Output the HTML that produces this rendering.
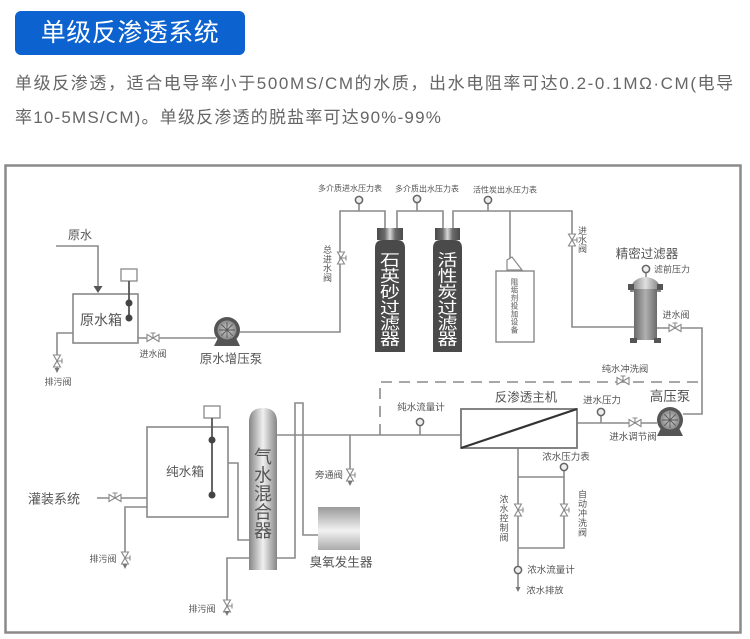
<!DOCTYPE html>
<html><head><meta charset="utf-8">
<style>
html,body{margin:0;padding:0;background:#fff;}
body{width:750px;height:639px;position:relative;overflow:hidden;font-family:"Liberation Sans","Noto Sans CJK SC",sans-serif;}
.title{position:absolute;left:15px;top:11px;width:230px;height:44px;background:#0c62cf;border-radius:6px;color:#fff;font-size:25px;line-height:44px;text-align:center;letter-spacing:0.5px;}
.p{position:absolute;left:15px;white-space:nowrap;font-size:17px;color:#666;line-height:20px;}
svg text{font-family:"Liberation Sans","Noto Sans CJK SC",sans-serif;}
</style></head><body>
<div class="title">单级反渗透系统</div>
<div class="p" style="top:74px;letter-spacing:1.6px;">单级反渗透，适合电导率小于500MS/CM的水质，出水电阻率可达0.2-0.1MΩ·CM(电导</div>
<div class="p" style="top:108px;letter-spacing:1.2px;">率10-5MS/CM)。单级反渗透的脱盐率可达90%-99%</div>

<svg width="750" height="639" viewBox="0 0 750 639" style="position:absolute;left:0;top:0">
<defs>
<linearGradient id="capG" x1="0" x2="1" y1="0" y2="0">
<stop offset="0" stop-color="#4a4a4a"/><stop offset="0.3" stop-color="#6a6a6a"/><stop offset="0.5" stop-color="#d8d8d8"/><stop offset="0.7" stop-color="#6a6a6a"/><stop offset="1" stop-color="#4a4a4a"/>
</linearGradient>
<linearGradient id="mixG" x1="0" x2="1" y1="0" y2="0">
<stop offset="0" stop-color="#858585"/><stop offset="0.5" stop-color="#f0f0f0"/><stop offset="1" stop-color="#858585"/>
</linearGradient>
<linearGradient id="ozG" x1="0" x2="0" y1="0" y2="1">
<stop offset="0" stop-color="#9a9a9a"/><stop offset="0.55" stop-color="#f2f2f2"/><stop offset="1" stop-color="#aaaaaa"/>
</linearGradient>
<linearGradient id="filtG" x1="0" x2="1" y1="0" y2="0">
<stop offset="0" stop-color="#6a6a6a"/><stop offset="0.5" stop-color="#b0b0b0"/><stop offset="1" stop-color="#6a6a6a"/>
</linearGradient>
<linearGradient id="domeG" x1="0" x2="1" y1="0" y2="0">
<stop offset="0" stop-color="#777"/><stop offset="0.5" stop-color="#e0e0e0"/><stop offset="1" stop-color="#777"/>
</linearGradient>
<radialGradient id="pumpG">
<stop offset="0" stop-color="#cfcfcf"/><stop offset="1" stop-color="#8a8a8a"/>
</radialGradient>
<g id="vh">
<path d="M-6 -3.5 L0 0 L-6 3.5 Z M6 -3.5 L0 0 L6 3.5 Z" fill="#fff" stroke="#888" stroke-width="1.1"/>
<path d="M0 0 V-5 M-2.5 -5 H2.5" stroke="#888" stroke-width="1.1" fill="none"/>
</g>
<g id="arr"><polygon points="-2.5,0 2.5,0 0,5" fill="#777"/></g>
<g id="pump">
<polygon points="-13,16 13,16 9,8 -9,8" fill="#555"/>
<circle r="13" fill="#555"/>
<circle r="9.5" fill="url(#pumpG)"/>
<path d="M-8 0 H8 M0 -8 V8 M-5.7 -5.7 L5.7 5.7 M-5.7 5.7 L5.7 -5.7" stroke="#555" stroke-width="0.9"/>
</g>
<g id="gauge"><circle r="3.6" fill="#eee" stroke="#666" stroke-width="1.5"/></g>
</defs>

<rect x="5.5" y="165.5" width="735" height="467" fill="none" stroke="#8a8a8a" stroke-width="2.5"/>

<g stroke="#8a8a8a" stroke-width="1.6" fill="none">
<path d="M56 246 H98 V287"/>
<path d="M73 333 H57 V370"/>
<path d="M138 338 H216"/>
<path d="M240 332 H340 V211 H385 V228"/>
<path d="M397 228 V211 H443 V228"/>
<path d="M453 228 V211 H572 V327 H634"/>
<path d="M510 211 V258"/>
<path d="M359 203 V211 M417 202 V211 M488 203 V211"/>
<path d="M646 272 V278"/>
<path d="M657 328 H702 V414 H683"/>
<path d="M577 423 H657"/>
<path d="M601 415 V423"/>
<path d="M461 435 H277"/>
<path d="M420 425 V435"/>
<path d="M350 435 V482"/>
<path d="M518 448 V588"/>
<path d="M518 477 H564 V548 H518"/>
<path d="M564 470 V477"/>
<path d="M97 498 H147"/>
<path d="M147 507 H125 V565"/>
<path d="M228 463 H238 V540 H249"/>
<path d="M249 558 H227 V612"/>
<path d="M277 558 H295 V403 H303 V535 H318"/>
</g>
<path d="M380 435 V382 H702" fill="none" stroke="#8a8a8a" stroke-width="1.6" stroke-dasharray="11 7"/>

<polygon points="93.5,286 102.5,286 98,293" fill="#555"/>
<rect x="73" y="294" width="65" height="49" fill="#fff" stroke="#888" stroke-width="1.6"/>
<rect x="121" y="269" width="16" height="12" fill="#fff" stroke="#888" stroke-width="1.3"/>
<line x1="129" y1="281" x2="129" y2="318" stroke="#555" stroke-width="1.8"/>
<circle cx="129" cy="303" r="3.5" fill="#444"/>
<circle cx="129" cy="318" r="3.5" fill="#444"/>

<rect x="147" y="427" width="81" height="90" fill="#fff" stroke="#888" stroke-width="1.6"/>
<rect x="204" y="406" width="16" height="12" fill="#fff" stroke="#888" stroke-width="1.3"/>
<line x1="212" y1="418" x2="212" y2="495" stroke="#555" stroke-width="1.8"/>
<circle cx="212" cy="440" r="3.5" fill="#444"/>
<circle cx="212" cy="495" r="3.5" fill="#444"/>

<use href="#pump" x="227" y="330"/>
<use href="#pump" x="670" y="420"/>

<path d="M375 352 V248 Q375 240 383 240 H397 Q405 240 405 248 V352 Z" fill="#4a4a4a"/>
<rect x="377" y="228" width="26" height="12" fill="url(#capG)"/>
<path d="M433 352 V248 Q433 240 441 240 H454 Q462 240 462 248 V352 Z" fill="#4a4a4a"/>
<rect x="435" y="228" width="25" height="12" fill="url(#capG)"/>
<g fill="#fff" font-size="16" text-anchor="middle" dominant-baseline="central">
<g transform="translate(390,0) scale(1.25,1)">
<text x="0" y="260">石</text><text x="0" y="276">英</text><text x="0" y="292">砂</text><text x="0" y="308">过</text><text x="0" y="323.5">滤</text><text x="0" y="339">器</text>
</g>
<g transform="translate(447.5,0) scale(1.25,1)">
<text x="0" y="260">活</text><text x="0" y="276">性</text><text x="0" y="292">炭</text><text x="0" y="308">过</text><text x="0" y="323.5">滤</text><text x="0" y="339">器</text>
</g>
</g>

<rect x="496" y="271" width="38" height="71" fill="#fff" stroke="#888" stroke-width="1.4"/>
<polygon points="507,270 507,260 512,257 522,270" fill="#fff" stroke="#888" stroke-width="1.2"/>
<g fill="#888" font-size="7.5" text-anchor="middle" dominant-baseline="central" font-weight="bold">
<text x="514.5" y="282">阻</text><text x="514.5" y="290">垢</text><text x="514.5" y="298">剂</text><text x="514.5" y="306">投</text><text x="514.5" y="314">加</text><text x="514.5" y="322">设</text><text x="514.5" y="330">备</text>
</g>

<path d="M630 292 Q631 278 645.5 277 Q660 278 661 292 Z" fill="url(#domeG)"/>
<rect x="634" y="289" width="23" height="51" fill="url(#filtG)"/>
<rect x="628" y="284" width="6" height="6" fill="#555"/>
<rect x="657" y="284" width="6" height="6" fill="#555"/>
<rect x="630" y="338" width="7" height="5" fill="#555"/>
<rect x="654" y="338" width="7" height="5" fill="#555"/>

<rect x="461" y="409" width="116" height="39" fill="#fff" stroke="#777" stroke-width="1.8"/>
<line x1="461" y1="448" x2="577" y2="409" stroke="#333" stroke-width="2.2"/>

<path d="M249 570 V422 Q249 408 263 408 Q277 408 277 422 V570 Z" fill="url(#mixG)"/>
<g fill="#555" font-size="18" text-anchor="middle" dominant-baseline="central">
<text x="263" y="457">气</text><text x="263" y="475.5">水</text><text x="263" y="494">混</text><text x="263" y="512.5">合</text><text x="263" y="531">器</text>
</g>

<rect x="318" y="507" width="42" height="43" fill="url(#ozG)"/>

<use href="#gauge" x="359" y="200"/>
<use href="#gauge" x="417" y="199"/>
<use href="#gauge" x="488" y="200"/>
<use href="#gauge" x="646" y="269"/>
<use href="#gauge" x="601" y="412"/>
<use href="#gauge" x="420" y="422"/>
<use href="#gauge" x="564" y="467"/>
<use href="#gauge" x="518" y="570"/>

<use href="#vh" x="153" y="338"/>
<use href="#vh" transform="translate(57,361) rotate(90)"/>
<use href="#arr" x="57" y="368"/>
<use href="#vh" transform="translate(341,258) rotate(90)"/>
<use href="#vh" transform="translate(572,240) rotate(90)"/>
<use href="#vh" x="675" y="328"/>
<use href="#vh" x="623" y="381"/>
<use href="#vh" x="635" y="423"/>
<use href="#vh" transform="translate(518,510) rotate(90)"/>
<use href="#vh" transform="translate(564,510) rotate(90)"/>
<use href="#arr" x="518" y="587"/>
<use href="#vh" transform="translate(350,475) rotate(90)"/>
<use href="#arr" x="350" y="481"/>
<use href="#vh" x="115" y="498"/>
<use href="#vh" transform="translate(125,558) rotate(90)"/>
<use href="#arr" x="125" y="564"/>
<use href="#vh" transform="translate(227,606) rotate(90)"/>
<use href="#arr" x="227" y="611"/>

<g fill="#555" text-anchor="middle" dominant-baseline="central">
<text x="80" y="235" font-size="12">原水</text>
<text x="101" y="320" font-size="14">原水箱</text>
<text x="153" y="354" font-size="9">进水阀</text>
<text x="58" y="382" font-size="9">排污阀</text>
<text x="231" y="359" font-size="12.5">原水增压泵</text>
<text x="350" y="188.5" font-size="8">多介质进水压力表</text>
<text x="427" y="189" font-size="8">多介质出水压力表</text>
<text x="505" y="190" font-size="8">活性炭出水压力表</text>
<text x="647" y="254" font-size="12.5">精密过滤器</text>
<text x="672" y="269.5" font-size="9">滤前压力</text>
<text x="676" y="315" font-size="9">进水阀</text>
<text x="625" y="369" font-size="9.3">纯水冲洗阀</text>
<text x="670" y="396.5" font-size="13.5">高压泵</text>
<text x="526" y="397.5" font-size="12.5">反渗透主机</text>
<text x="602" y="401" font-size="9.5">进水压力</text>
<text x="633" y="437.5" font-size="9.5">进水调节阀</text>
<text x="421" y="408" font-size="9.5">纯水流量计</text>
<text x="566" y="457.5" font-size="9.5">浓水压力表</text>
<text x="551" y="570.5" font-size="9.5">浓水流量计</text>
<text x="545" y="590.5" font-size="9.3">浓水排放</text>
<text x="185" y="472" font-size="12.7">纯水箱</text>
<text x="54" y="499" font-size="13">灌装系统</text>
<text x="103" y="559" font-size="9">排污阀</text>
<text x="329" y="475" font-size="9.3">旁通阀</text>
<text x="341" y="562.5" font-size="12.6">臭氧发生器</text>
<text x="202" y="609" font-size="9">排污阀</text>
</g>
<g fill="#555" text-anchor="middle" dominant-baseline="central" font-size="9">
<text x="327.5" y="250">总</text><text x="327.5" y="259.3">进</text><text x="327.5" y="268.6">水</text><text x="327.5" y="277.9">阀</text>
<text x="582.5" y="231">进</text><text x="582.5" y="240">水</text><text x="582.5" y="249">阀</text>
<text x="504" y="499.7">浓</text><text x="504" y="509.1">水</text><text x="504" y="518.5">控</text><text x="504" y="527.9">制</text><text x="504" y="537.3">阀</text>
<text x="582.5" y="494.7">自</text><text x="582.5" y="504.1">动</text><text x="582.5" y="513.5">冲</text><text x="582.5" y="522.9">洗</text><text x="582.5" y="532.3">阀</text>
</g>
</svg>
</body></html>
